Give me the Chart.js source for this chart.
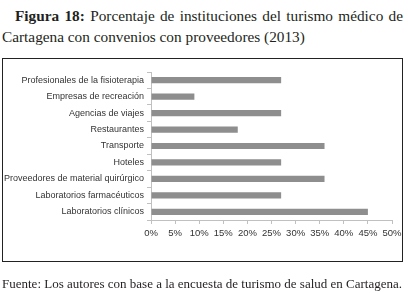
<!DOCTYPE html>
<html lang="es">
<head>
<meta charset="UTF-8">
<title>Figura 18</title>
<script src="https://cdn.jsdelivr.net/npm/chart.js"></script>
<style>
    body {
        margin: 0;
        width: 408px;
        height: 294px;
        background: #ffffff;
        position: relative;
        overflow: hidden;
        font-family: "Liberation Serif", "DejaVu Serif", serif;
        color: #231f20;
    }
    .title {
        position: absolute;
        left: 2px;
        top: 5px;
        width: 401px;
        font-size: 15.3px;
        line-height: 21px;
        text-align: justify;
        text-align-last: left;
        text-indent: 13px;
    }
    .frame {
        position: absolute;
        left: 2px;
        top: 58px;
        width: 399px;
        height: 202px;
        border: 1.5px solid #222;
    }
    canvas {
        position: absolute;
        left: 0;
        top: 0;
    }
    .source {
        position: absolute;
        left: 2px;
        top: 276px;
        font-size: 13px;
        white-space: nowrap;
    }
</style>
</head>
<body>
<div class="title"><b>Figura 18:</b> Porcentaje de instituciones del turismo médico de Cartagena con convenios con proveedores (2013)</div>
<div class="frame"></div>
<canvas id="chart" width="408" height="294"></canvas>
<div class="source">Fuente: Los autores con base a la encuesta de turismo de salud en Cartagena.</div>

<script>
    const categories = [
        'Profesionales de la fisioterapia',
        'Empresas de recreación',
        'Agencias de viajes',
        'Restaurantes',
        'Transporte',
        'Hoteles',
        'Proveedores de material quirúrgico',
        'Laboratorios farmacéuticos',
        'Laboratorios clínicos'
    ];
    const percentages = [27, 9, 27, 18, 36, 27, 36, 27, 45];
    const tickMax = 50;
    const tickStep = 5;

    const sansFamily = '"Liberation Sans", Arial, sans-serif';

    new Chart(document.getElementById('chart'), {
        type: 'bar',
        data: {
            labels: categories,
            datasets: [{
                data: percentages,
                backgroundColor: '#8e8e8e',
                categoryPercentage: 1,
                barPercentage: 0.38
            }]
        },
        options: {
            indexAxis: 'y',
            responsive: false,
            animation: false,
            layout: {
                padding: { top: 72, right: 16, bottom: 50, left: 0 }
            },
            plugins: {
                legend: { display: false },
                tooltip: { enabled: false }
            },
            scales: {
                x: {
                    min: 0,
                    max: tickMax,
                    ticks: {
                        stepSize: tickStep,
                        color: '#333',
                        font: { family: sansFamily, size: 9.5 },
                        padding: 4,
                        maxRotation: 0,
                        callback: v => v + '%'
                    },
                    grid: {
                        drawOnChartArea: false,
                        drawTicks: true,
                        tickLength: 4,
                        color: '#c0c0c0'
                    },
                    border: { color: '#c0c0c0' },
                    afterFit: axis => { axis.height = 24; }
                },
                y: {
                    ticks: {
                        color: '#333',
                        font: { family: sansFamily, size: 9 },
                        padding: 3,
                        autoSkip: false
                    },
                    grid: {
                        offset: true,
                        drawOnChartArea: false,
                        drawTicks: true,
                        tickLength: 4,
                        color: '#c0c0c0'
                    },
                    border: { color: '#c0c0c0' },
                    afterFit: axis => { axis.width = 151; }
                }
            }
        }
    });
</script>
</body>
</html>
